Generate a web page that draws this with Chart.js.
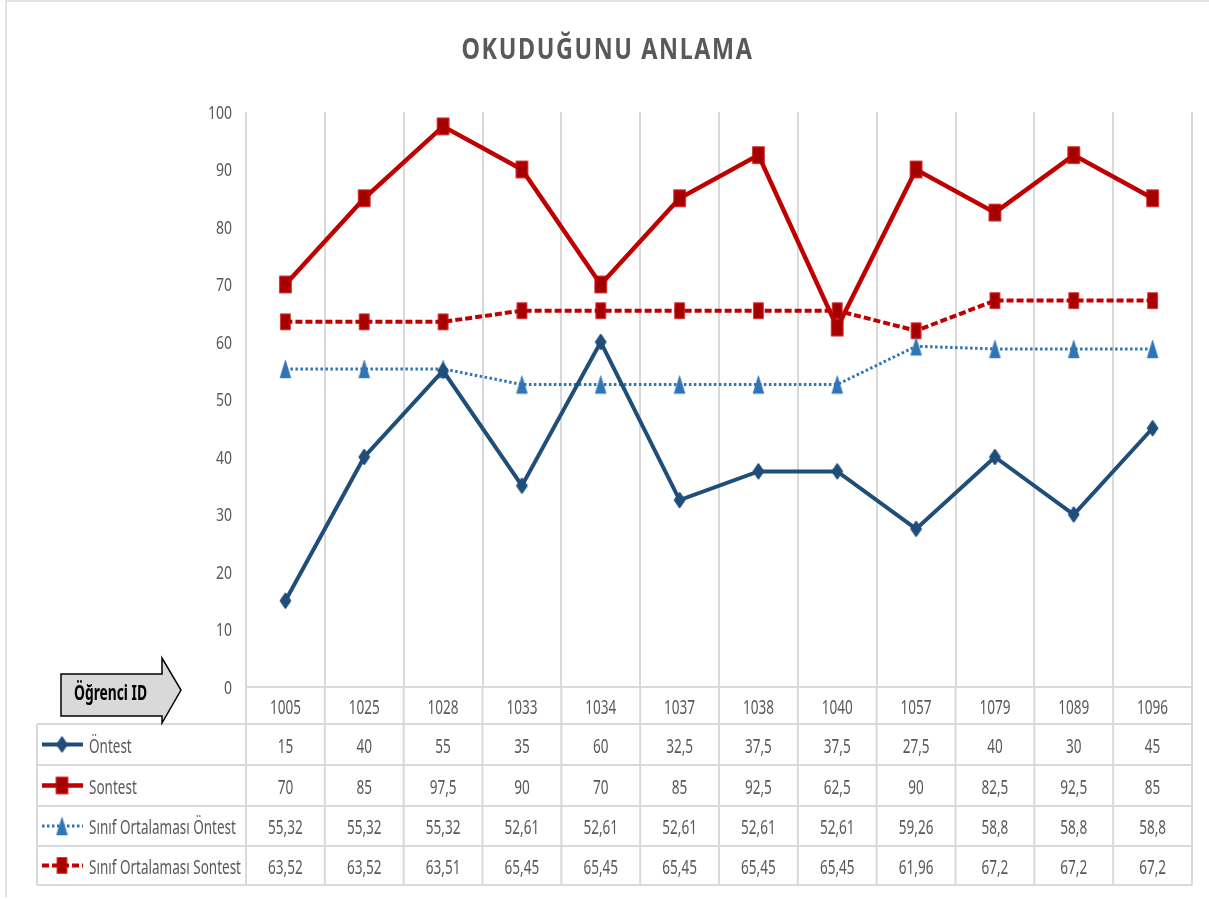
<!DOCTYPE html>
<html>
<head>
<meta charset="utf-8">
<script src="https://cdn.jsdelivr.net/npm/chart.js@4"></script>
<style>
html,body{margin:0;padding:0;background:#fff;}
canvas{display:block;}
</style>
</head>
<body>
<canvas id="c" width="1209" height="899"></canvas>
<script>
const chartTitle = 'OKUDUĞUNU ANLAMA';
const axisNote = 'Öğrenci ID';
const studentIds = ['1005','1025','1028','1033','1034','1037','1038','1040','1057','1079','1089','1096'];
const seriesNames = ['Öntest','Sontest','Sınıf Ortalaması Öntest','Sınıf Ortalaması Sontest'];
const ontest = [15,40,55,35,60,32.5,37.5,37.5,27.5,40,30,45];
const sontest = [70,85,97.5,90,70,85,92.5,62.5,90,82.5,92.5,85];
const sinifOntest = [55.32,55.32,55.32,52.61,52.61,52.61,52.61,52.61,59.26,58.8,58.8,58.8];
const sinifSontest = [63.52,63.52,63.51,65.45,65.45,65.45,65.45,65.45,61.96,67.2,67.2,67.2];
const yTicks = [0,10,20,30,40,50,60,70,80,90,100];

const FAM = "'Noto Sans','Open Sans',sans-serif";
const TXT = '#595959';
const GRID = '#d9d9d9';
const fmt = v => String(v).replace('.', ',');

// marker images (Excel-like, slightly tall)
function marker(shape, w, h, fill, stroke, lw) {
  const pad = Math.ceil(lw) + 1;
  const c = document.createElement('canvas');
  c.width = w + pad * 2; c.height = h + pad * 2;
  const g = c.getContext('2d');
  const cx = c.width / 2, cy = c.height / 2;
  g.beginPath();
  if (shape === 'diamond') {
    g.moveTo(cx, cy - h / 2); g.lineTo(cx + w / 2, cy); g.lineTo(cx, cy + h / 2); g.lineTo(cx - w / 2, cy);
  } else if (shape === 'triangle') {
    g.moveTo(cx, cy - h / 2); g.lineTo(cx + w / 2, cy + h / 2); g.lineTo(cx - w / 2, cy + h / 2);
  } else {
    g.rect(cx - w / 2, cy - h / 2, w, h);
  }
  g.closePath();
  g.fillStyle = fill; g.fill();
  if (lw > 0) { g.strokeStyle = stroke; g.lineWidth = lw; g.stroke(); }
  return c;
}
const mkOntest = marker('diamond', 11, 16, '#1f4e79', '#1f4e79', 1);
const mkSontest = marker('rect', 11, 16, '#a50000', '#c00000', 1.5);
const mkSinifOn = marker('triangle', 11, 18, '#2e75b6', '#2e75b6', 0.5);
const mkSinifSon = marker('rect', 9, 15, '#a50000', '#c00000', 1.5);

function drawScaled(ctx, text, x, y, align, font, sx, color, spacing) {
  ctx.save();
  ctx.font = font;
  ctx.fillStyle = color;
  ctx.textAlign = align;
  ctx.textBaseline = 'alphabetic';
  if (spacing) ctx.letterSpacing = spacing;
  ctx.translate(x, y);
  ctx.scale(sx, 1);
  ctx.fillText(text, 0, 0);
  ctx.restore();
}
function fitScale(ctx, text, font, target, spacing) {
  ctx.save();
  ctx.font = font;
  if (spacing) ctx.letterSpacing = spacing;
  const w = ctx.measureText(text).width;
  ctx.restore();
  return target / w;
}

const tablePlugin = {
  id: 'dataTable',
  afterDraw(chart) {
    const ctx = chart.ctx;
    const x = chart.scales.x, y = chart.scales.y;
    const area = chart.chartArea;
    const n = studentIds.length;
    const step = (area.right - area.left) / n;
    const rowsY = [area.bottom, 724, 765, 806, 846, 885];
    const tableLeft = 37;

    const fTab = '19px ' + FAM;
    const sxLabel = fitScale(ctx, seriesNames[3], fTab, 152);
    const sxNum = fitScale(ctx, '1005', fTab, 31);
    const fTick = '18px ' + FAM;
    const sxTick = fitScale(ctx, '100', fTick, 24);

    ctx.save();
    // outer chart border (left and top)
    ctx.strokeStyle = GRID;
    ctx.lineWidth = 1.5;
    ctx.beginPath();
    ctx.moveTo(6, 897); ctx.lineTo(6, 1); ctx.lineTo(1209, 1);
    ctx.stroke();

    // title
    const fTitle = 'bold 29px ' + FAM;
    const sp = '2px';
    const sxT = fitScale(ctx, chartTitle, fTitle, 292, sp);
    drawScaled(ctx, chartTitle, (chart.width) / 2 + 3, 59, 'center', fTitle, sxT, TXT, sp);

    // y tick labels
    yTicks.forEach(v => {
      drawScaled(ctx, String(v), area.left - 14, y.getPixelForValue(v) + 6.5, 'right', fTick, sxTick, TXT);
    });

    ctx.lineWidth = 2;
    ctx.strokeStyle = GRID;
    ctx.beginPath();
    for (let i = 0; i <= n; i++) {
      const px = area.left + i * step;
      ctx.moveTo(px, area.bottom); ctx.lineTo(px, rowsY[5]);
    }
    ctx.moveTo(tableLeft, rowsY[1]); ctx.lineTo(tableLeft, rowsY[5]);
    ctx.moveTo(area.left, rowsY[0]); ctx.lineTo(area.right, rowsY[0]);
    for (let r = 1; r < rowsY.length; r++) {
      ctx.moveTo(tableLeft, rowsY[r]); ctx.lineTo(area.right, rowsY[r]);
    }
    ctx.stroke();

    // header row
    studentIds.forEach((id, i) => {
      drawScaled(ctx, id, x.getPixelForValue(i), (rowsY[0] + rowsY[1]) / 2 + 8.5, 'center', fTab, sxNum, TXT);
    });
    // data rows
    chart.data.datasets.forEach((ds, r) => {
      const cy = (rowsY[r + 1] + rowsY[r + 2]) / 2;
      ds.data.forEach((v, i) => {
        drawScaled(ctx, fmt(v), x.getPixelForValue(i), cy + 8, 'center', fTab, sxNum, TXT);
      });
      ctx.save();
      ctx.strokeStyle = ds.borderColor;
      ctx.lineWidth = ds.borderWidth;
      ctx.setLineDash(ds.borderDash || []);
      ctx.beginPath();
      ctx.moveTo(42, cy); ctx.lineTo(83, cy);
      ctx.stroke();
      ctx.restore();
      const img = ds.pointStyle;
      ctx.drawImage(img, 62 - img.width / 2, cy - img.height / 2);
      drawScaled(ctx, ds.label, 89, cy + 8, 'left', fTab, sxLabel, TXT);
    });

    // "Öğrenci ID" arrow
    ctx.beginPath();
    ctx.moveTo(61, 674); ctx.lineTo(162, 674); ctx.lineTo(162, 658);
    ctx.lineTo(181, 690); ctx.lineTo(162, 723); ctx.lineTo(162, 716);
    ctx.lineTo(61, 716); ctx.closePath();
    ctx.fillStyle = '#d9d9d9';
    ctx.fill();
    ctx.strokeStyle = '#000';
    ctx.lineWidth = 1.5;
    ctx.stroke();
    const fNote = 'bold 22px ' + FAM;
    drawScaled(ctx, axisNote, 74, 700, 'left', fNote, fitScale(ctx, axisNote, fNote, 73), '#000');
    ctx.restore();
  }
};

new Chart(document.getElementById('c'), {
  type: 'line',
  data: {
    labels: studentIds,
    datasets: [
      {
        label: seriesNames[0], data: ontest,
        borderColor: '#1f4e79', borderWidth: 4,
        pointStyle: mkOntest, pointRadius: 6
      },
      {
        label: seriesNames[1], data: sontest,
        borderColor: '#c00000', borderWidth: 4.5,
        pointStyle: mkSontest, pointRadius: 6
      },
      {
        label: seriesNames[2], data: sinifOntest,
        borderColor: '#2e75b6', borderWidth: 3, borderDash: [2.5, 2.5],
        pointStyle: mkSinifOn, pointRadius: 6
      },
      {
        label: seriesNames[3], data: sinifSontest,
        borderColor: '#c00000', borderWidth: 4, borderDash: [7, 3],
        pointStyle: mkSinifSon, pointRadius: 6
      }
    ]
  },
  options: {
    responsive: false,
    devicePixelRatio: 1,
    animation: false,
    layout: { padding: { left: 246, right: 17, top: 112, bottom: 212 } },
    elements: { line: { tension: 0 } },
    plugins: {
      legend: { display: false },
      tooltip: { enabled: false },
      title: { display: false }
    },
    scales: {
      x: {
        offset: true,
        grid: { offset: true, color: GRID, lineWidth: 2, drawTicks: false },
        border: { display: false },
        ticks: { display: false },
        afterFit: s => { s.height = 0; }
      },
      y: {
        min: 0, max: 100,
        afterBuildTicks: s => { s.ticks = yTicks.map(v => ({ value: v })); },
        grid: { display: false, drawTicks: false },
        border: { display: false },
        ticks: { display: false },
        afterFit: s => { s.width = 0; }
      }
    }
  },
  plugins: [tablePlugin]
});
</script>
</body>
</html>
